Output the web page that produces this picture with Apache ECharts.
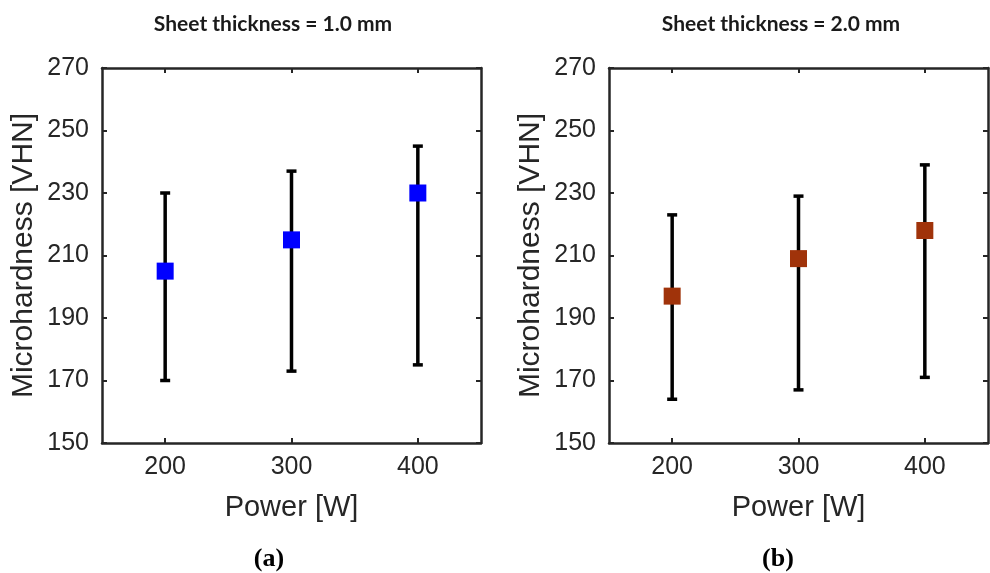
<!DOCTYPE html>
<html>
<head>
<meta charset="utf-8">
<script src="https://cdn.jsdelivr.net/npm/echarts@6/dist/echarts.min.js"></script>
<style>
  html, body { margin: 0; padding: 0; background: #fff; }
  #chart { width: 990px; height: 573px; }
</style>
</head>
<body>
<div id="chart"></div>
<script>
// Laser power levels (W)
const power = [200, 300, 400];

// Sheet thickness 1.0 mm: mean hardness and error-bar limits (VHN)
const mean1 = [205, 215, 230];
const low1  = [170, 173, 175];
const high1 = [230, 237, 245];

// Sheet thickness 2.0 mm
const mean2 = [197, 209, 218];
const low2  = [164, 167, 171];
const high2 = [223, 229, 239];

const yTicks = [150, 170, 190, 210, 230, 250, 270];
const xTicks = [200, 300, 400];

const panelTitles = ['Sheet thickness = 1.0 mm', 'Sheet thickness = 2.0 mm'];
const panelTags = ['(a)', '(b)'];

const axisColor = '#262626';
const tickFont = 'Liberation Sans, Arial, sans-serif';

const grids = [
  { left: 102, top: 68, width: 379, height: 375 },
  { left: 609, top: 68, width: 379, height: 375 }
];

function xAxes(gi) {
  const base = {
    type: 'value', gridIndex: gi, min: 150, max: 450,
    splitLine: { show: false },
    axisLine: { show: true, onZero: false, lineStyle: { color: axisColor, width: 2.5 } },
    axisTick: { show: true, inside: true, length: 5, customValues: xTicks, lineStyle: { color: axisColor, width: 2 } }
  };
  return [
    Object.assign({}, base, {
      position: 'bottom',
      axisLabel: { customValues: xTicks, margin: 12, color: axisColor, fontSize: 25, fontFamily: tickFont },
      name: 'Power [W]', nameLocation: 'middle', nameGap: 50,
      nameTextStyle: { color: axisColor, fontSize: 29, fontFamily: tickFont }
    }),
    Object.assign({}, base, { position: 'top', axisLabel: { show: false } })
  ];
}

function yAxes(gi) {
  const base = {
    type: 'value', gridIndex: gi, min: 150, max: 270,
    splitLine: { show: false },
    axisLine: { show: true, onZero: false, lineStyle: { color: axisColor, width: 2.5 } },
    axisTick: { show: true, inside: true, length: 5, customValues: yTicks, lineStyle: { color: axisColor, width: 2 } }
  };
  return [
    Object.assign({}, base, {
      position: 'left',
      axisLabel: { customValues: yTicks, margin: 13, color: axisColor, fontSize: 25, fontFamily: tickFont },
      name: 'Microhardness [VHN]', nameLocation: 'middle', nameGap: 63,
      nameTextStyle: { color: axisColor, fontSize: 30, fontFamily: tickFont }
    }),
    Object.assign({}, base, { position: 'right', axisLabel: { show: false } })
  ];
}

// Vertical error bar with short horizontal caps at both ends
function errorBars(axisIdx, lows, highs) {
  return {
    type: 'custom',
    xAxisIndex: axisIdx, yAxisIndex: axisIdx,
    data: power.map((p, i) => [p, lows[i], highs[i]]),
    renderItem: function (params, api) {
      const x = api.value(0);
      const lo = api.coord([x, api.value(1)]);
      const hi = api.coord([x, api.value(2)]);
      const cap = 5;
      const style = { stroke: '#000', lineWidth: 3.5 };
      return {
        type: 'group',
        children: [
          { type: 'line', shape: { x1: lo[0], y1: lo[1], x2: hi[0], y2: hi[1] }, style: style },
          { type: 'line', shape: { x1: hi[0] - cap, y1: hi[1], x2: hi[0] + cap, y2: hi[1] }, style: style },
          { type: 'line', shape: { x1: lo[0] - cap, y1: lo[1], x2: lo[0] + cap, y2: lo[1] }, style: style }
        ]
      };
    },
    z: 2
  };
}

function markers(axisIdx, means, color) {
  return {
    type: 'scatter',
    xAxisIndex: axisIdx, yAxisIndex: axisIdx,
    data: power.map((p, i) => [p, means[i]]),
    symbol: 'rect', symbolSize: 17,
    itemStyle: { color: color, opacity: 1 },
    z: 3
  };
}

const xA = xAxes(0).concat(xAxes(1));
const yA = yAxes(0).concat(yAxes(1));

const titleStyle = { fontFamily: 'Lato, Open Sans, sans-serif', fontWeight: 'bold', fontSize: 21, color: '#1a1a1a' };
const tagStyle = { fontFamily: 'Liberation Serif, Times New Roman, serif', fontWeight: 'bold', fontSize: 26, color: '#000' };

const option = {
  animation: false,
  backgroundColor: '#fff',
  title: [
    { text: panelTitles[0], left: 268, top: 9, textAlign: 'center', textStyle: titleStyle },
    { text: panelTitles[1], left: 776, top: 9, textAlign: 'center', textStyle: titleStyle },
    { text: panelTags[0], left: 264, top: 541, textAlign: 'center', textStyle: tagStyle },
    { text: panelTags[1], left: 773, top: 541, textAlign: 'center', textStyle: tagStyle }
  ],
  grid: grids,
  xAxis: xA,
  yAxis: yA,
  series: [
    errorBars(0, low1, high1),
    markers(0, mean1, '#0000ff'),
    errorBars(2, low2, high2),
    markers(2, mean2, '#a0330a')
  ]
};

const chart = echarts.init(document.getElementById('chart'), null, { renderer: 'canvas' });
chart.setOption(option);
</script>
</body>
</html>
